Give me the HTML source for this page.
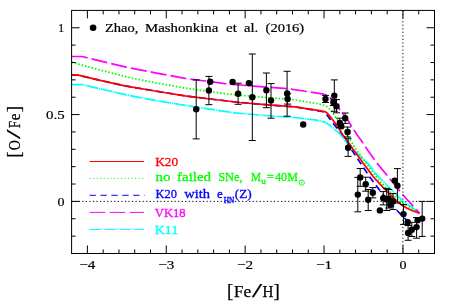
<!DOCTYPE html><html><head><meta charset="utf-8"><style>html,body{margin:0;padding:0;background:#fff}svg{display:block;will-change:transform}text{font-family:"Liberation Serif",serif}</style></head><body>
<svg width="463" height="302" viewBox="0 0 463 302">
<rect width="463" height="302" fill="#fff"/>
<line x1="71.6" y1="201.4" x2="434.5" y2="201.4" stroke="#000" stroke-width="1" stroke-dasharray="1.2 2.35"/>
<line x1="402.9" y1="10.4" x2="402.9" y2="253.5" stroke="#000" stroke-width="1" stroke-dasharray="1.2 2.35"/>
<g fill="none" stroke-width="1.7" stroke-linejoin="round">
<path d="M71.6 75.2 L77.3 74.9 L100.0 80.3 L125.0 85.9 L155.0 91.0 L185.0 95.9 L210.0 99.0 L240.0 102.5 L265.0 104.6 L295.0 106.9 L316.5 110.5 L322.0 111.5 L325.0 112.5 L327.9 116.3 L333.0 123.0 L339.9 131.8 L346.4 141.2 L351.8 150.0 L358.9 160.7 L363.4 167.4 L369.1 176.0 L374.8 183.9 L380.0 190.5 L387.0 199.0 L395.0 208.5 L400.8 214.3 L406.0 219.5 L410.0 222.3 L411.6 223.4" stroke="#0000ff" stroke-dasharray="6.7 4.1"/>
<path d="M71.6 84.7 L82.6 84.7 L100.0 88.8 L125.0 94.6 L155.0 100.4 L185.0 105.3 L210.0 109.2 L235.0 112.9 L265.0 115.5 L295.0 117.5 L316.5 120.2 L321.0 121.1 L325.3 122.4 L329.7 125.2 L333.4 128.3 L340.0 133.9 L344.7 140.1 L347.8 144.0 L351.2 147.5 L355.0 151.2 L363.5 159.5 L368.0 163.5 L377.7 176.0 L382.0 180.0 L388.7 187.0 L395.0 193.3 L402.8 200.9 L408.0 204.6 L412.8 207.8 L419.6 213.3" stroke="#00ffff" stroke-dasharray="11.8 0.9 1.3 0.9"/>
<path d="M71.6 62.3 L100.0 70.0 L128.9 77.5 L155.0 82.7 L185.0 88.0 L210.0 91.6 L235.6 94.9 L270.0 97.8 L295.0 99.9 L316.5 103.5 L323.0 105.0 L326.5 106.5 L329.0 108.5 L331.5 111.0 L335.5 117.0 L339.5 123.0 L343.9 129.8 L348.9 138.2 L352.8 144.1 L356.5 150.0 L364.2 160.5 L366.0 163.0 L375.4 175.7 L378.9 180.2 L387.3 189.5 L399.2 200.7 L404.0 204.0 L409.0 206.8 L414.0 210.0 L419.6 213.3" stroke="#00ff00" stroke-dasharray="1.6 1.85"/>
<path d="M71.6 56.5 L82.0 56.5 L100.0 60.9 L126.3 67.2 L155.0 72.8 L185.0 78.3 L205.0 81.0 L225.0 83.6 L235.0 84.6 L260.0 86.6 L289.3 88.9 L310.0 92.0 L322.0 93.8 L326.5 95.0 L329.0 96.5 L331.5 98.8 L336.0 104.5 L341.8 112.3 L348.5 121.2 L352.7 128.0 L357.2 135.0 L361.4 140.7 L367.4 149.8 L376.8 163.0 L387.3 175.6 L391.7 181.0 L399.8 191.1 L405.8 198.0 L408.6 201.2 L412.9 205.8 L419.6 213.3" stroke="#ff00ff" stroke-dasharray="16.1 4.1"/>
<path d="M71.6 75.2 L77.3 74.9 L100.0 80.3 L125.0 85.9 L155.0 91.0 L185.0 95.9 L210.0 99.0 L240.0 102.5 L265.0 104.6 L295.0 106.9 L316.5 110.2 L322.0 111.1 L325.6 111.8 L327.5 113.4 L329.9 116.3 L336.4 124.8 L339.9 130.2 L342.8 134.8 L347.9 141.8 L353.6 150.0 L361.3 160.5 L363.0 163.0 L372.6 175.7 L376.3 180.2 L385.0 189.5 L396.8 201.2 L401.5 204.8 L406.6 208.0 L412.5 210.8 L419.6 213.3" stroke="#ff0000"/>
</g>
<g stroke="#000" stroke-width="1" fill="none">
<path d="M196.2 79.9 V138.9 M192.7 79.9 H199.7 M192.7 138.9 H199.7"/>
<path d="M208.9 76.4 V104.7 M205.4 76.4 H212.4 M205.4 104.7 H212.4"/>
<path d="M238.1 83.2 V104.3 M234.6 83.2 H241.6 M234.6 104.3 H241.6"/>
<path d="M252.3 54.0 V140.5 M248.8 54.0 H255.8 M248.8 140.5 H255.8"/>
<path d="M266.4 73.0 V107.7 M262.9 73.0 H269.9 M262.9 107.7 H269.9"/>
<path d="M271.0 83.6 V118.2 M267.5 83.6 H274.5 M267.5 118.2 H274.5"/>
<path d="M287.1 71.3 V116.2 M283.6 71.3 H290.6 M283.6 116.2 H290.6"/>
<path d="M287.6 93.7 V104.1 M284.1 93.7 H291.1 M284.1 104.1 H291.1"/>
<path d="M325.5 95.4 V102.5 M322.0 95.4 H329.0 M322.0 102.5 H329.0"/>
<path d="M334.3 79.9 V111.3 M330.8 79.9 H337.8 M330.8 111.3 H337.8"/>
<path d="M333.4 99.1 V105.5 M329.9 99.1 H336.9 M329.9 105.5 H336.9"/>
<path d="M336.5 99.6 V112.8 M333.0 99.6 H340.0 M333.0 112.8 H340.0"/>
<path d="M339.8 118.2 V127.6 M336.3 118.2 H343.3 M336.3 127.6 H343.3"/>
<path d="M345.2 113.0 V123.4 M341.7 113.0 H348.7 M341.7 123.4 H348.7"/>
<path d="M347.6 127.0 V137.0 M344.1 127.0 H351.1 M344.1 137.0 H351.1"/>
<path d="M348.1 138.7 V156.4 M344.6 138.7 H351.6 M344.6 156.4 H351.6"/>
<path d="M360.2 168.5 V186.3 M356.7 168.5 H363.7 M356.7 186.3 H363.7"/>
<path d="M365.7 177.2 V191.2 M362.2 177.2 H369.2 M362.2 191.2 H369.2"/>
<path d="M357.8 177.4 V211.8 M354.3 177.4 H361.3 M354.3 211.8 H361.3"/>
<path d="M372.8 187.6 V197.9 M369.3 187.6 H376.3 M369.3 197.9 H376.3"/>
<path d="M368.2 189.5 V210.5 M364.7 189.5 H371.7 M364.7 210.5 H371.7"/>
<path d="M383.2 191.6 V204.9 M379.7 191.6 H386.7 M379.7 204.9 H386.7"/>
<path d="M386.7 188.4 V210.5 M383.2 188.4 H390.2 M383.2 210.5 H390.2"/>
<path d="M388.6 189.5 V208.0 M385.1 189.5 H392.1 M385.1 208.0 H392.1"/>
<path d="M393.0 193.5 V209.5 M389.5 193.5 H396.5 M389.5 209.5 H396.5"/>
<path d="M397.4 168.6 V203.0 M393.9 168.6 H400.9 M393.9 203.0 H400.9"/>
<path d="M403.5 204.5 V224.4 M400.0 204.5 H407.0 M400.0 224.4 H407.0"/>
<path d="M408.1 225.5 V240.3 M404.6 225.5 H411.6 M404.6 240.3 H411.6"/>
<path d="M411.8 222.3 V236.5 M408.3 222.3 H415.3 M408.3 236.5 H415.3"/>
<path d="M416.6 217.5 V238.2 M413.1 217.5 H420.1 M413.1 238.2 H420.1"/>
<path d="M422.2 201.4 V236.4 M418.7 201.4 H425.7 M418.7 236.4 H425.7"/>
</g>
<g fill="#000">
<circle cx="196.2" cy="109.2" r="3.2"/>
<circle cx="210.2" cy="81.7" r="3.2"/>
<circle cx="208.9" cy="90.5" r="3.2"/>
<circle cx="232.6" cy="81.9" r="3.2"/>
<circle cx="238.1" cy="93.8" r="3.2"/>
<circle cx="248.9" cy="83.3" r="3.2"/>
<circle cx="252.3" cy="97.3" r="3.2"/>
<circle cx="266.4" cy="90.2" r="3.2"/>
<circle cx="271.0" cy="100.5" r="3.2"/>
<circle cx="287.1" cy="93.5" r="3.2"/>
<circle cx="287.6" cy="98.9" r="3.2"/>
<circle cx="303.2" cy="124.5" r="3.2"/>
<circle cx="325.5" cy="99.0" r="3.2"/>
<circle cx="334.3" cy="95.6" r="3.2"/>
<circle cx="333.4" cy="102.3" r="3.2"/>
<circle cx="336.5" cy="106.2" r="3.2"/>
<circle cx="339.8" cy="122.9" r="3.2"/>
<circle cx="341.2" cy="126.2" r="3.2"/>
<circle cx="345.2" cy="118.2" r="3.2"/>
<circle cx="347.6" cy="132.0" r="3.2"/>
<circle cx="348.1" cy="147.8" r="3.2"/>
<circle cx="360.2" cy="177.4" r="3.2"/>
<circle cx="365.7" cy="184.2" r="3.2"/>
<circle cx="357.8" cy="194.6" r="3.2"/>
<circle cx="372.8" cy="192.7" r="3.2"/>
<circle cx="368.2" cy="199.8" r="3.2"/>
<circle cx="379.9" cy="210.4" r="3.2"/>
<circle cx="383.2" cy="198.3" r="3.2"/>
<circle cx="386.7" cy="199.5" r="3.2"/>
<circle cx="388.6" cy="198.7" r="3.2"/>
<circle cx="390.3" cy="204.7" r="3.2"/>
<circle cx="393.0" cy="201.5" r="3.2"/>
<circle cx="394.7" cy="180.6" r="3.2"/>
<circle cx="397.4" cy="185.8" r="3.2"/>
<circle cx="403.5" cy="214.1" r="3.2"/>
<circle cx="407.7" cy="222.3" r="3.2"/>
<circle cx="408.1" cy="232.9" r="3.2"/>
<circle cx="411.8" cy="229.7" r="3.2"/>
<circle cx="416.6" cy="227.1" r="3.2"/>
<circle cx="417.6" cy="220.2" r="3.2"/>
<circle cx="422.2" cy="218.6" r="3.2"/>
</g>
<g stroke="#000" stroke-width="1" fill="none">
<rect x="71.6" y="10.4" width="362.9" height="243.1"/>
<path d="M87.39 253.5 v-8 M87.39 10.4 v8 M103.17 253.5 v-4 M103.17 10.4 v4 M118.95 253.5 v-4 M118.95 10.4 v4 M134.72 253.5 v-4 M134.72 10.4 v4 M150.50 253.5 v-4 M150.50 10.4 v4 M166.28 253.5 v-8 M166.28 10.4 v8 M182.06 253.5 v-4 M182.06 10.4 v4 M197.84 253.5 v-4 M197.84 10.4 v4 M213.61 253.5 v-4 M213.61 10.4 v4 M229.39 253.5 v-4 M229.39 10.4 v4 M245.17 253.5 v-8 M245.17 10.4 v8 M260.95 253.5 v-4 M260.95 10.4 v4 M276.73 253.5 v-4 M276.73 10.4 v4 M292.50 253.5 v-4 M292.50 10.4 v4 M308.28 253.5 v-4 M308.28 10.4 v4 M324.06 253.5 v-8 M324.06 10.4 v8 M339.84 253.5 v-4 M339.84 10.4 v4 M355.62 253.5 v-4 M355.62 10.4 v4 M371.39 253.5 v-4 M371.39 10.4 v4 M387.17 253.5 v-4 M387.17 10.4 v4 M402.95 253.5 v-8 M402.95 10.4 v8 M418.73 253.5 v-4 M418.73 10.4 v4 M71.6 236.13 h4 M434.5 236.13 h-4 M71.6 218.76 h4 M434.5 218.76 h-4 M71.6 201.40 h8 M434.5 201.40 h-8 M71.6 184.04 h4 M434.5 184.04 h-4 M71.6 166.67 h4 M434.5 166.67 h-4 M71.6 149.31 h4 M434.5 149.31 h-4 M71.6 131.94 h4 M434.5 131.94 h-4 M71.6 114.58 h8 M434.5 114.58 h-8 M71.6 97.22 h4 M434.5 97.22 h-4 M71.6 79.85 h4 M434.5 79.85 h-4 M71.6 62.49 h4 M434.5 62.49 h-4 M71.6 45.12 h4 M434.5 45.12 h-4 M71.6 27.76 h8 M434.5 27.76 h-8"/>
</g>
<text x="79.3" y="269.0" font-size="13" textLength="16.1" lengthAdjust="spacingAndGlyphs" fill="#000" stroke="#000" stroke-width="0.2">−4</text>
<text x="158.2" y="269.0" font-size="13" textLength="16.1" lengthAdjust="spacingAndGlyphs" fill="#000" stroke="#000" stroke-width="0.2">−3</text>
<text x="237.1" y="269.0" font-size="13" textLength="16.1" lengthAdjust="spacingAndGlyphs" fill="#000" stroke="#000" stroke-width="0.2">−2</text>
<text x="316.0" y="269.0" font-size="13" textLength="16.1" lengthAdjust="spacingAndGlyphs" fill="#000" stroke="#000" stroke-width="0.2">−1</text>
<text x="399.4" y="269.0" font-size="13" textLength="7.0" lengthAdjust="spacingAndGlyphs" fill="#000" stroke="#000" stroke-width="0.2">0</text>
<text x="58.2" y="32.3" font-size="13" textLength="5.8" lengthAdjust="spacingAndGlyphs" fill="#000" stroke="#000" stroke-width="0.2">1</text>
<text x="46.0" y="119.1" font-size="13" textLength="18.6" lengthAdjust="spacingAndGlyphs" fill="#000" stroke="#000" stroke-width="0.2">0.5</text>
<text x="57.6" y="205.8" font-size="13" textLength="7.0" lengthAdjust="spacingAndGlyphs" fill="#000" stroke="#000" stroke-width="0.2">0</text>
<text x="227.0" y="296.5" font-size="18.7" textLength="6.3" lengthAdjust="spacingAndGlyphs" fill="#000" stroke="#000" stroke-width="0.25">[</text>
<text x="233.9" y="296.5" font-size="16.4" textLength="9.3" lengthAdjust="spacingAndGlyphs" fill="#000" stroke="#000" stroke-width="0.25">F</text>
<text x="243.6" y="296.5" font-size="16.4" textLength="7.7" lengthAdjust="spacingAndGlyphs" fill="#000" stroke="#000" stroke-width="0.25">e</text>
<text x="252.0" y="296.5" font-size="18.7" textLength="10.1" lengthAdjust="spacingAndGlyphs" fill="#000" stroke="#000" stroke-width="0.25">/</text>
<text x="262.4" y="296.5" font-size="16.4" textLength="10.9" lengthAdjust="spacingAndGlyphs" fill="#000" stroke="#000" stroke-width="0.25">H</text>
<text x="273.5" y="296.5" font-size="18.7" textLength="6.3" lengthAdjust="spacingAndGlyphs" fill="#000" stroke="#000" stroke-width="0.25">]</text>
<g transform="translate(20 156.6) rotate(-90)">
<text x="-1.2" y="0.0" font-size="18.7" textLength="6.3" lengthAdjust="spacingAndGlyphs" fill="#000" stroke="#000" stroke-width="0.25">[</text>
<text x="6.4" y="0.0" font-size="16.4" textLength="10.0" lengthAdjust="spacingAndGlyphs" fill="#000" stroke="#000" stroke-width="0.25">O</text>
<text x="17.6" y="0.0" font-size="18.7" textLength="9.5" lengthAdjust="spacingAndGlyphs" fill="#000" stroke="#000" stroke-width="0.25">/</text>
<text x="28.5" y="0.0" font-size="16.4" textLength="7.0" lengthAdjust="spacingAndGlyphs" fill="#000" stroke="#000" stroke-width="0.25">F</text>
<text x="36.3" y="0.0" font-size="16.4" textLength="6.8" lengthAdjust="spacingAndGlyphs" fill="#000" stroke="#000" stroke-width="0.25">e</text>
<text x="44.4" y="0.0" font-size="18.7" textLength="6.3" lengthAdjust="spacingAndGlyphs" fill="#000" stroke="#000" stroke-width="0.25">]</text>
</g>
<circle cx="93.1" cy="27.8" r="3.3" fill="#000"/>
<text x="104.9" y="31.6" font-size="13" textLength="33.5" lengthAdjust="spacingAndGlyphs" fill="#000" stroke="#000" stroke-width="0.22">Zhao,</text>
<text x="145.0" y="31.6" font-size="13" textLength="73.3" lengthAdjust="spacingAndGlyphs" fill="#000" stroke="#000" stroke-width="0.22">Mashonkina</text>
<text x="226.0" y="31.6" font-size="13" textLength="10.8" lengthAdjust="spacingAndGlyphs" fill="#000" stroke="#000" stroke-width="0.22">et</text>
<text x="244.0" y="31.6" font-size="13" textLength="14.2" lengthAdjust="spacingAndGlyphs" fill="#000" stroke="#000" stroke-width="0.22">al.</text>
<text x="265.6" y="31.6" font-size="13" textLength="38.6" lengthAdjust="spacingAndGlyphs" fill="#000" stroke="#000" stroke-width="0.22">(2016)</text>
<g stroke-width="1" fill="none">
<path d="M89.6 161.5 H144" stroke="#ff0000"/>
<path d="M89.6 178.3 H143.5" stroke="#00ff00" stroke-dasharray="1.1 2.4"/>
<path d="M89.6 195.3 H144.6" stroke="#0000ff" stroke-dasharray="6.3 4.6"/>
<path d="M89.6 212.4 H144" stroke="#ff00ff" stroke-dasharray="15.6 4.5"/>
<path d="M89.6 229.5 H144" stroke="#00ffff" stroke-dasharray="11.3 1.4 0.8 1.4"/>
</g>
<text x="155.3" y="165.8" font-size="13" textLength="22.8" lengthAdjust="spacingAndGlyphs" fill="#ff0000" stroke="#ff0000" stroke-width="0.3">K20</text>
<text x="155.5" y="180.9" font-size="13" textLength="15.1" lengthAdjust="spacingAndGlyphs" fill="#00ff00" stroke="#00ff00" stroke-width="0.3">no</text>
<text x="177.1" y="180.9" font-size="13" textLength="33.9" lengthAdjust="spacingAndGlyphs" fill="#00ff00" stroke="#00ff00" stroke-width="0.3">failed</text>
<text x="218.2" y="180.9" font-size="13" textLength="24.5" lengthAdjust="spacingAndGlyphs" fill="#00ff00" stroke="#00ff00" stroke-width="0.3">SNe,</text>
<text x="251.0" y="180.9" font-size="13" textLength="10.0" lengthAdjust="spacingAndGlyphs" fill="#00ff00" stroke="#00ff00" stroke-width="0.3">M</text>
<text x="266.6" y="180.9" font-size="13" textLength="7.5" lengthAdjust="spacingAndGlyphs" fill="#00ff00" stroke="#00ff00" stroke-width="0.3">=</text>
<text x="274.9" y="180.9" font-size="13" textLength="12.3" lengthAdjust="spacingAndGlyphs" fill="#00ff00" stroke="#00ff00" stroke-width="0.3">40</text>
<text x="287.2" y="180.9" font-size="13" textLength="10.7" lengthAdjust="spacingAndGlyphs" fill="#00ff00" stroke="#00ff00" stroke-width="0.3">M</text>
<text x="261.2" y="184.2" font-size="8.5" textLength="4.6" lengthAdjust="spacingAndGlyphs" fill="#00ff00" stroke="#00ff00" stroke-width="0.3">u</text>
<circle cx="301.8" cy="182.7" r="2.6" fill="none" stroke="#00ff00" stroke-width="0.9"/><circle cx="301.8" cy="182.7" r="0.8" fill="#00ff00"/>
<text x="155.5" y="198.2" font-size="13" textLength="21.5" lengthAdjust="spacingAndGlyphs" fill="#0000ff" stroke="#0000ff" stroke-width="0.3">K20</text>
<text x="184.3" y="198.2" font-size="13" textLength="25.8" lengthAdjust="spacingAndGlyphs" fill="#0000ff" stroke="#0000ff" stroke-width="0.3">with</text>
<text x="217.1" y="198.2" font-size="13" textLength="5.8" lengthAdjust="spacingAndGlyphs" fill="#0000ff" stroke="#0000ff" stroke-width="0.3">e</text>
<text x="234.8" y="198.2" font-size="13" textLength="17.0" lengthAdjust="spacingAndGlyphs" fill="#0000ff" stroke="#0000ff" stroke-width="0.3">(Z)</text>
<text x="223.8" y="202.6" font-size="7.8" textLength="10.4" lengthAdjust="spacingAndGlyphs" fill="#0000ff" stroke="#0000ff" stroke-width="0.35">HN</text>
<text x="154.8" y="216.6" font-size="13" textLength="30.9" lengthAdjust="spacingAndGlyphs" fill="#ff00ff" stroke="#ff00ff" stroke-width="0.3">VK18</text>
<text x="154.8" y="233.8" font-size="13" textLength="23.4" lengthAdjust="spacingAndGlyphs" fill="#00ffff" stroke="#00ffff" stroke-width="0.3">K11</text>
</svg></body></html>
